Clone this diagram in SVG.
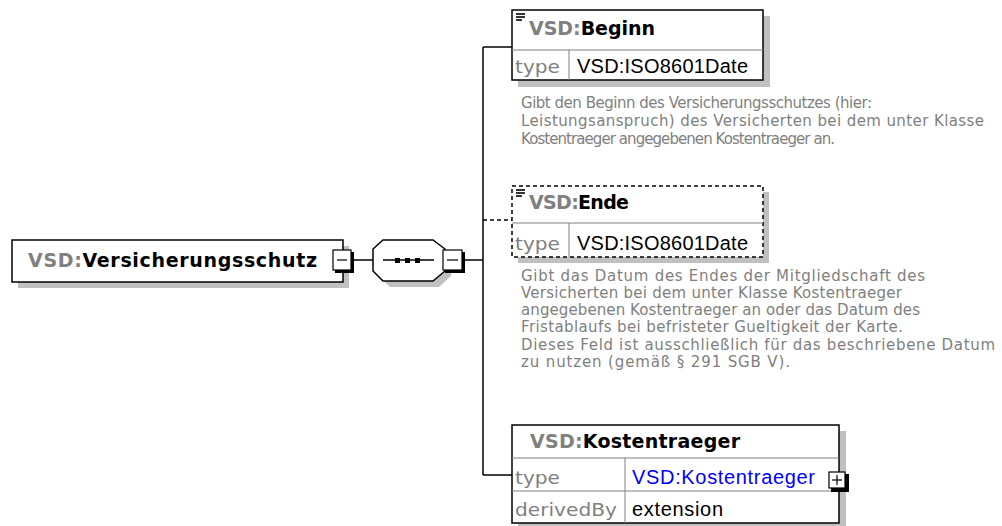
<svg xmlns="http://www.w3.org/2000/svg" width="1002" height="526" viewBox="0 0 1002 526">
<style>
.bg{fill:#ffffff}
.box{fill:#ffffff;stroke:#000000;stroke-width:1.5}
.dbox{fill:#ffffff;stroke:#000000;stroke-width:1.5;stroke-dasharray:4 3}
.shadow{fill:#c0c0c0}
.inner{stroke:#808080;stroke-width:1;fill:none}
.conn{stroke:#000000;stroke-width:1.5;fill:none}
.dconn{stroke:#000000;stroke-width:1.5;fill:none;stroke-dasharray:4 3}
.hdr{font-family:"DejaVu Sans",sans-serif;font-weight:bold;font-size:19px;fill:#000000}
.ns{fill:#808080}
.lbl{font-family:"DejaVu Sans",sans-serif;font-size:18px;fill:#808080}
.val{font-family:"Liberation Sans",Arial,sans-serif;font-size:20px;fill:#000000}
.link{font-family:"Liberation Sans",Arial,sans-serif;font-size:20px;fill:#0000ff}
.doc{font-family:"DejaVu Sans",sans-serif;font-size:15px;fill:#808080}
.btn{fill:#ffffff;stroke:#000000;stroke-width:1.2}
.bsh{fill:#000000}
.icon{stroke:#000000;stroke-width:1.2}
.mark{stroke:#000000;stroke-width:1.6}
</style>
<rect class="bg" x="0" y="0" width="1002" height="526"/>

<g id="connectors">
  <line class="conn" x1="354" y1="260" x2="373" y2="260"/>
  <line class="conn" x1="465" y1="260" x2="483" y2="260"/>
  <line class="conn" x1="483" y1="47" x2="483" y2="475"/>
  <line class="conn" x1="483" y1="47" x2="512" y2="47"/>
  <line class="dconn" x1="483" y1="220" x2="512" y2="220"/>
  <line class="conn" x1="483" y1="475" x2="512" y2="475"/>
</g>

<g id="node-root">
  <rect class="shadow" x="18" y="246" width="331" height="42"/>
  <rect class="box" x="12" y="240" width="331" height="42"/>
  <text class="hdr" x="28" y="267" textLength="289" lengthAdjust="spacing"><tspan class="ns">VSD:</tspan>Versicherungsschutz</text>
  <rect class="bsh" x="335" y="252" width="19" height="21"/>
  <rect class="btn" x="333" y="250" width="18" height="20"/>
  <line class="icon" x1="337" y1="260" x2="347" y2="260"/>
</g>

<g id="node-sequence">
  <polygon class="shadow" points="390,246 439,246 451,255 451,276 439,287 390,287 379,276 379,255"/>
  <polygon class="box" points="383,240 433,240 445,249 445,271 433,281 383,281 373,271 373,249"/>
  <line class="conn" x1="383" y1="260" x2="434" y2="260"/>
  <rect x="395" y="258" width="5" height="5" fill="#000000"/>
  <rect x="405" y="258" width="5" height="5" fill="#000000"/>
  <rect x="415" y="258" width="5" height="5" fill="#000000"/>
  <rect class="bsh" x="445" y="252" width="20" height="21"/>
  <rect class="btn" x="443" y="250" width="19" height="20"/>
  <line class="icon" x1="447" y1="260" x2="458" y2="260"/>
</g>

<g id="node-beginn">
  <rect class="shadow" x="518" y="16" width="252" height="71"/>
  <rect class="box" x="512" y="10" width="251" height="70"/>
  <line class="inner" x1="512" y1="50" x2="763" y2="50"/>
  <line class="inner" x1="569" y1="50" x2="569" y2="80"/>
  <line class="mark" x1="516" y1="14" x2="525" y2="14"/>
  <line class="mark" x1="516" y1="17" x2="525" y2="17"/>
  <line class="mark" x1="516" y1="20" x2="522" y2="20"/>
  <text class="hdr" x="529" y="35" textLength="126" lengthAdjust="spacing"><tspan class="ns">VSD:</tspan>Beginn</text>
  <text class="lbl" x="515" y="73" textLength="45" lengthAdjust="spacingAndGlyphs">type</text>
  <text class="val" x="577" y="73" textLength="171" lengthAdjust="spacing">VSD:ISO8601Date</text>
  <text class="doc" x="521" y="108" textLength="351" lengthAdjust="spacing">Gibt den Beginn des Versicherungsschutzes (hier:</text>
  <text class="doc" x="521" y="126" textLength="463" lengthAdjust="spacing">Leistungsanspruch) des Versicherten bei dem unter Klasse</text>
  <text class="doc" x="521" y="144" textLength="314" lengthAdjust="spacing">Kostentraeger angegebenen Kostentraeger an.</text>
</g>

<g id="node-ende">
  <rect class="shadow" x="518" y="192" width="251" height="71"/>
  <rect class="dbox" x="512" y="186" width="251" height="71"/>
  <line class="inner" x1="512" y1="223" x2="763" y2="223"/>
  <line class="inner" x1="569" y1="223" x2="569" y2="257"/>
  <line class="mark" x1="516" y1="190" x2="525" y2="190"/>
  <line class="mark" x1="516" y1="193" x2="525" y2="193"/>
  <line class="mark" x1="516" y1="196" x2="522" y2="196"/>
  <text class="hdr" x="529" y="209" textLength="100" lengthAdjust="spacing"><tspan class="ns">VSD:</tspan>Ende</text>
  <text class="lbl" x="515" y="250" textLength="45" lengthAdjust="spacingAndGlyphs">type</text>
  <text class="val" x="577" y="250" textLength="171" lengthAdjust="spacing">VSD:ISO8601Date</text>
  <text class="doc" x="521" y="281" textLength="404" lengthAdjust="spacing">Gibt das Datum des Endes der Mitgliedschaft des</text>
  <text class="doc" x="521" y="298" textLength="381" lengthAdjust="spacing">Versicherten bei dem unter Klasse Kostentraeger</text>
  <text class="doc" x="521" y="315" textLength="399" lengthAdjust="spacing">angegebenen Kostentraeger an oder das Datum des</text>
  <text class="doc" x="521" y="332" textLength="382" lengthAdjust="spacing">Fristablaufs bei befristeter Gueltigkeit der Karte.</text>
  <text class="doc" x="521" y="350" textLength="474" lengthAdjust="spacing">Dieses Feld ist ausschließlich für das beschriebene Datum</text>
  <text class="doc" x="521" y="367" textLength="269" lengthAdjust="spacing">zu nutzen (gemäß § 291 SGB V).</text>
</g>

<g id="node-kostentraeger">
  <rect class="shadow" x="518" y="431" width="328" height="98"/>
  <rect class="box" x="512" y="425" width="327" height="98"/>
  <line class="inner" x1="512" y1="458" x2="839" y2="458"/>
  <line class="inner" x1="512" y1="491" x2="839" y2="491"/>
  <line class="inner" x1="625" y1="458" x2="625" y2="523"/>
  <text class="hdr" x="530" y="448" textLength="210" lengthAdjust="spacing"><tspan class="ns">VSD:</tspan>Kostentraeger</text>
  <text class="lbl" x="515" y="484" textLength="45" lengthAdjust="spacingAndGlyphs">type</text>
  <text class="link" x="632" y="484" textLength="183" lengthAdjust="spacing">VSD:Kostentraeger</text>
  <text class="lbl" x="515" y="516" textLength="102" lengthAdjust="spacingAndGlyphs">derivedBy</text>
  <text class="val" x="632" y="516" textLength="91" lengthAdjust="spacing">extension</text>
  <rect class="bsh" x="831" y="474" width="18" height="18"/>
  <rect class="btn" x="829" y="472" width="16" height="16"/>
  <line class="icon" x1="832" y1="480" x2="842" y2="480"/>
  <line class="icon" x1="837" y1="475" x2="837" y2="485"/>
</g>
</svg>
